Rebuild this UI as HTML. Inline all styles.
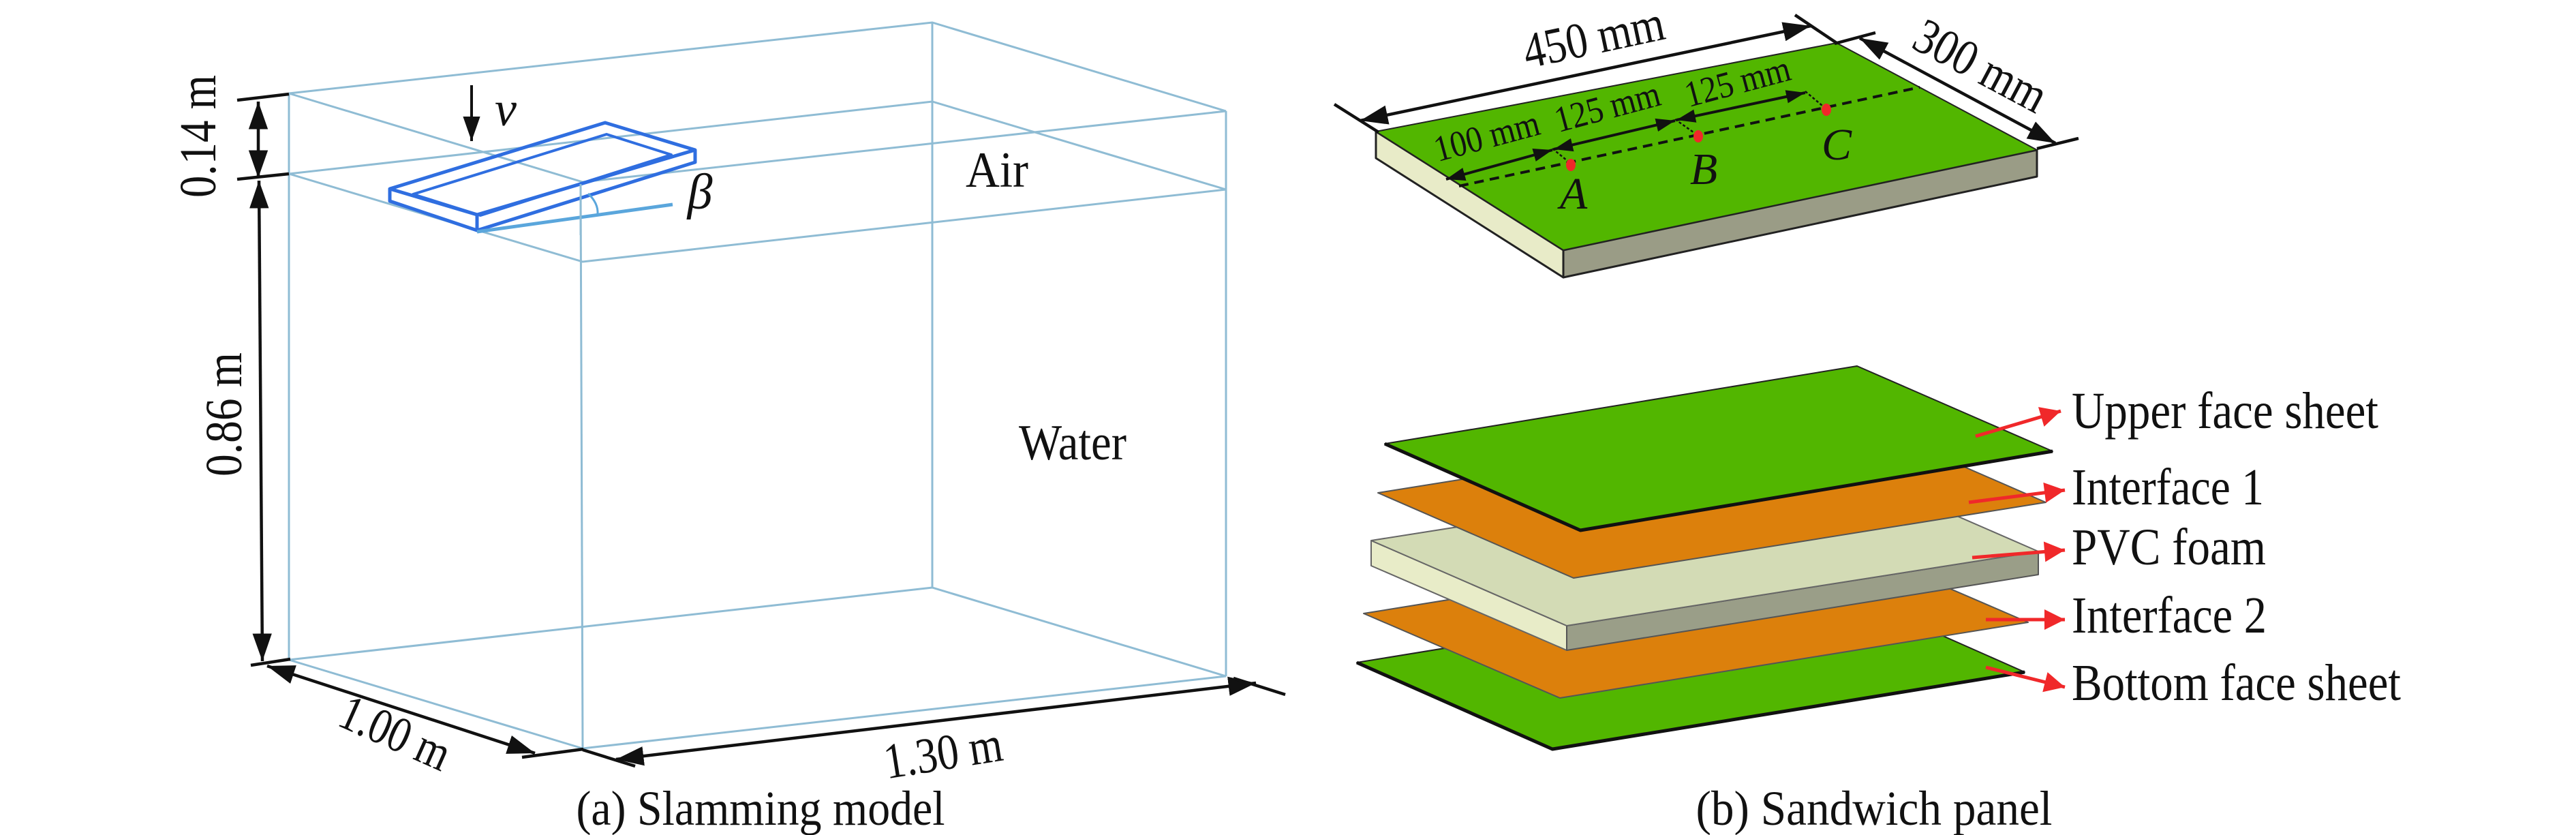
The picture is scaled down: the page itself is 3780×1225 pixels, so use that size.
<!DOCTYPE html>
<html><head><meta charset="utf-8"><style>
html,body{margin:0;padding:0;background:#fff}
svg{display:block}
text{font-family:"Liberation Serif",serif;fill:#111}
</style></head><body>
<svg width="3780" height="1225" viewBox="0 0 3780 1225" xmlns="http://www.w3.org/2000/svg">
<defs>
<marker id="ah" viewBox="0 0 10 10" refX="10" refY="5" markerWidth="9" markerHeight="9" markerUnits="strokeWidth" orient="auto-start-reverse"><path d="M0,1.5 L10,5 L0,8.5 z" fill="#111"/></marker>
<marker id="ahs" viewBox="0 0 10 10" refX="10" refY="5" markerWidth="7" markerHeight="7" markerUnits="strokeWidth" orient="auto-start-reverse"><path d="M0,1.5 L10,5 L0,8.5 z" fill="#111"/></marker>
<marker id="ar" viewBox="0 0 10 10" refX="10" refY="5" markerWidth="7" markerHeight="6" markerUnits="strokeWidth" orient="auto"><path d="M0,0 L10,5 L0,10 z" fill="#f0282a"/></marker>
</defs>

<!-- ===== Left: Slamming model ===== -->
<g stroke="#8fbcd4" stroke-width="3" fill="none">
  <polygon points="424,137 1368,33 1799,163 855,267"/>
  <polygon points="424,255 1368,149 1799,278 855,384"/>
  <polygon points="424,968 1368,862 1799,992 855,1098"/>
  <line x1="424" y1="137" x2="424" y2="968"/>
  <line x1="1368" y1="33" x2="1368" y2="862"/>
  <line x1="1799" y1="163" x2="1799" y2="992"/>
  <line x1="852" y1="270" x2="855" y2="1098"/>
</g>

<!-- plate -->
<g stroke="#2f6ee0" stroke-width="5" fill="none" stroke-linejoin="round">
  <polygon points="572,277 888,180 1020,220 700,315"/>
  <polyline points="572,277 572,295 700,338 1020,238 1020,220"/>
  <line x1="700" y1="315" x2="700" y2="338"/>
  <polygon points="606,285 890,197 985,227 705,316" stroke-width="4"/>
</g>
<line x1="700" y1="340" x2="987" y2="300" stroke="#5aa6dc" stroke-width="5"/>
<path d="M863,284 Q878,298 877,314" stroke="#5aa6dc" stroke-width="3" fill="none"/>
<line x1="852" y1="270" x2="852" y2="345" stroke="#8fbcd4" stroke-width="3"/>

<!-- v arrow -->
<line x1="692" y1="125" x2="692" y2="207" stroke="#111" stroke-width="4" marker-end="url(#ah)"/>
<text x="742" y="184" font-size="72" font-style="italic" text-anchor="middle">v</text>
<text x="1027" y="306" font-size="74" font-style="italic" text-anchor="middle">β</text>

<!-- dimensions -->
<g stroke="#111" stroke-width="4.5">
  <line x1="348" y1="147" x2="424" y2="138"/>
  <line x1="348" y1="263" x2="424" y2="255"/>
  <line x1="368" y1="976" x2="426" y2="967"/>
  <line x1="379" y1="149" x2="379" y2="261" marker-start="url(#ah)" marker-end="url(#ah)"/>
  <line x1="380" y1="265" x2="385" y2="970" marker-start="url(#ah)" marker-end="url(#ah)"/>
  <line x1="392" y1="977" x2="785" y2="1105" marker-start="url(#ah)" marker-end="url(#ah)"/>
  <line x1="766" y1="1111" x2="856" y2="1099"/>
  <line x1="904" y1="1114" x2="1843" y2="1002" marker-start="url(#ah)" marker-end="url(#ah)"/>
  <line x1="855" y1="1100" x2="932" y2="1124"/>
  <line x1="1810" y1="995" x2="1886" y2="1019"/>
</g>
<text transform="translate(316,200) rotate(-90)" font-size="76" text-anchor="middle" textLength="180" lengthAdjust="spacingAndGlyphs">0.14 m</text>
<text transform="translate(354,608) rotate(-90)" font-size="76" text-anchor="middle" textLength="182" lengthAdjust="spacingAndGlyphs">0.86 m</text>
<text transform="translate(577,1082) rotate(24)" font-size="74" text-anchor="middle" dominant-baseline="middle" textLength="170" lengthAdjust="spacingAndGlyphs">1.00 m</text>
<text transform="translate(1385,1112) rotate(-9)" font-size="74" text-anchor="middle" dominant-baseline="middle" textLength="175" lengthAdjust="spacingAndGlyphs">1.30 m</text>
<text x="1463" y="274" font-size="74" text-anchor="middle" textLength="92" lengthAdjust="spacingAndGlyphs">Air</text>
<text x="1574" y="674" font-size="74" text-anchor="middle" textLength="158" lengthAdjust="spacingAndGlyphs">Water</text>
<text x="1116" y="1210" font-size="72" text-anchor="middle" textLength="541" lengthAdjust="spacingAndGlyphs">(a) Slamming model</text>

<!-- ===== Right: Sandwich panel (assembled) ===== -->
<g stroke="#222" stroke-width="3" stroke-linejoin="round">
  <polygon points="2019,193 2294,367 2294,407 2019,232" fill="#e8ebc8"/>
  <polygon points="2294,367 2989,220 2989,259 2294,407" fill="#9a9c86"/>
  <polygon points="2019,193 2695,63 2989,220 2294,367" fill="#52b600" stroke-width="2"/>
</g>
<line x1="2141" y1="273" x2="2817" y2="128" stroke="#111" stroke-width="4" stroke-dasharray="14,9"/>
<g stroke="#111" stroke-width="2.5" stroke-dasharray="4,3">
  <line x1="2278" y1="218" x2="2305" y2="240"/>
  <line x1="2458" y1="175" x2="2492" y2="199"/>
  <line x1="2649" y1="134" x2="2680" y2="160"/>
</g>
<g stroke="#111" stroke-width="4.5">
  <line x1="1996" y1="177" x2="2657" y2="38" marker-start="url(#ah)" marker-end="url(#ah)"/>
  <line x1="1958" y1="153" x2="2023" y2="194"/>
  <line x1="2634" y1="22" x2="2695" y2="63"/>
  <line x1="2729" y1="56" x2="3016" y2="210" marker-start="url(#ah)" marker-end="url(#ah)"/>
  <line x1="2692" y1="64" x2="2752" y2="48"/>
  <line x1="2989" y1="218" x2="3050" y2="203"/>
</g>
<g stroke="#111" stroke-width="4">
  <line x1="2122" y1="263" x2="2278" y2="220" marker-start="url(#ahs)" marker-end="url(#ahs)"/>
  <line x1="2280" y1="219" x2="2458" y2="177" marker-start="url(#ahs)" marker-end="url(#ahs)"/>
  <line x1="2460" y1="176" x2="2649" y2="136" marker-start="url(#ahs)" marker-end="url(#ahs)"/>
</g>
<g fill="#f0282a">
  <ellipse cx="2305" cy="242" rx="7" ry="9"/>
  <ellipse cx="2492" cy="200" rx="7" ry="9"/>
  <ellipse cx="2680" cy="161" rx="7" ry="9"/>
</g>
<text transform="translate(2340,62) rotate(-12)" font-size="74" text-anchor="middle" dominant-baseline="middle" textLength="210" lengthAdjust="spacingAndGlyphs">450 mm</text>
<text transform="translate(2903,103) rotate(28)" font-size="74" text-anchor="middle" dominant-baseline="middle" textLength="210" lengthAdjust="spacingAndGlyphs">300 mm</text>
<text transform="translate(2183,205) rotate(-15)" font-size="54" text-anchor="middle" dominant-baseline="middle" textLength="158" lengthAdjust="spacingAndGlyphs">100 mm</text>
<text transform="translate(2360,162) rotate(-15)" font-size="54" text-anchor="middle" dominant-baseline="middle" textLength="158" lengthAdjust="spacingAndGlyphs">125 mm</text>
<text transform="translate(2551,125) rotate(-15)" font-size="54" text-anchor="middle" dominant-baseline="middle" textLength="158" lengthAdjust="spacingAndGlyphs">125 mm</text>
<text x="2309" y="306" font-size="66" font-style="italic" text-anchor="middle">A</text>
<text x="2500" y="270" font-size="66" font-style="italic" text-anchor="middle">B</text>
<text x="2695" y="234" font-size="66" font-style="italic" text-anchor="middle">C</text>

<!-- ===== Exploded layers ===== -->
<g stroke-linejoin="round">
  <polygon points="1991,972 2684,859 2971,986 2278,1099" fill="#52b600" stroke="#222" stroke-width="2"/>
  <polyline points="1991,972 2278,1099 2971,986" fill="none" stroke="#111" stroke-width="5"/>
  <polygon points="2001,900 2688,789 2976,913 2289,1024" fill="#dc800c" stroke="#555" stroke-width="2"/>
  <polygon points="2012,793 2299,918 2299,954 2012,830" fill="#e8ecc8" stroke="#666" stroke-width="2"/>
  <polygon points="2299,918 2991,809 2991,843 2299,954" fill="#9a9e88" stroke="#555" stroke-width="2"/>
  <polygon points="2012,793 2704,684 2991,809 2299,918" fill="#d3dbb5" stroke="#666" stroke-width="2"/>
  <polygon points="2022,723 2715,612 3002,737 2309,848" fill="#dc800c" stroke="#555" stroke-width="2"/>
  <polygon points="2032,651 2725,537 3012,662 2319,778" fill="#52b600" stroke="#222" stroke-width="2"/>
  <polyline points="2032,651 2319,778 3012,662" fill="none" stroke="#111" stroke-width="5"/>
</g>
<g stroke="#f0282a" stroke-width="5" fill="none">
  <line x1="2899" y1="640" x2="3024" y2="603" marker-end="url(#ar)"/>
  <line x1="2889" y1="737" x2="3030" y2="719" marker-end="url(#ar)"/>
  <line x1="2894" y1="818" x2="3030" y2="807" marker-end="url(#ar)"/>
  <line x1="2914" y1="909" x2="3030" y2="909" marker-end="url(#ar)"/>
  <line x1="2914" y1="979" x2="3030" y2="1008" marker-end="url(#ar)"/>
</g>
<text x="3040" y="628" font-size="76" textLength="450" lengthAdjust="spacingAndGlyphs">Upper face sheet</text>
<text x="3040" y="740" font-size="76" textLength="282" lengthAdjust="spacingAndGlyphs">Interface 1</text>
<text x="3040" y="828" font-size="76" textLength="285" lengthAdjust="spacingAndGlyphs">PVC foam</text>
<text x="3040" y="928" font-size="76" textLength="286" lengthAdjust="spacingAndGlyphs">Interface 2</text>
<text x="3040" y="1027" font-size="76" textLength="483" lengthAdjust="spacingAndGlyphs">Bottom face sheet</text>
<text x="2750" y="1210" font-size="72" text-anchor="middle" textLength="523" lengthAdjust="spacingAndGlyphs">(b) Sandwich panel</text>
</svg>
</body></html>
